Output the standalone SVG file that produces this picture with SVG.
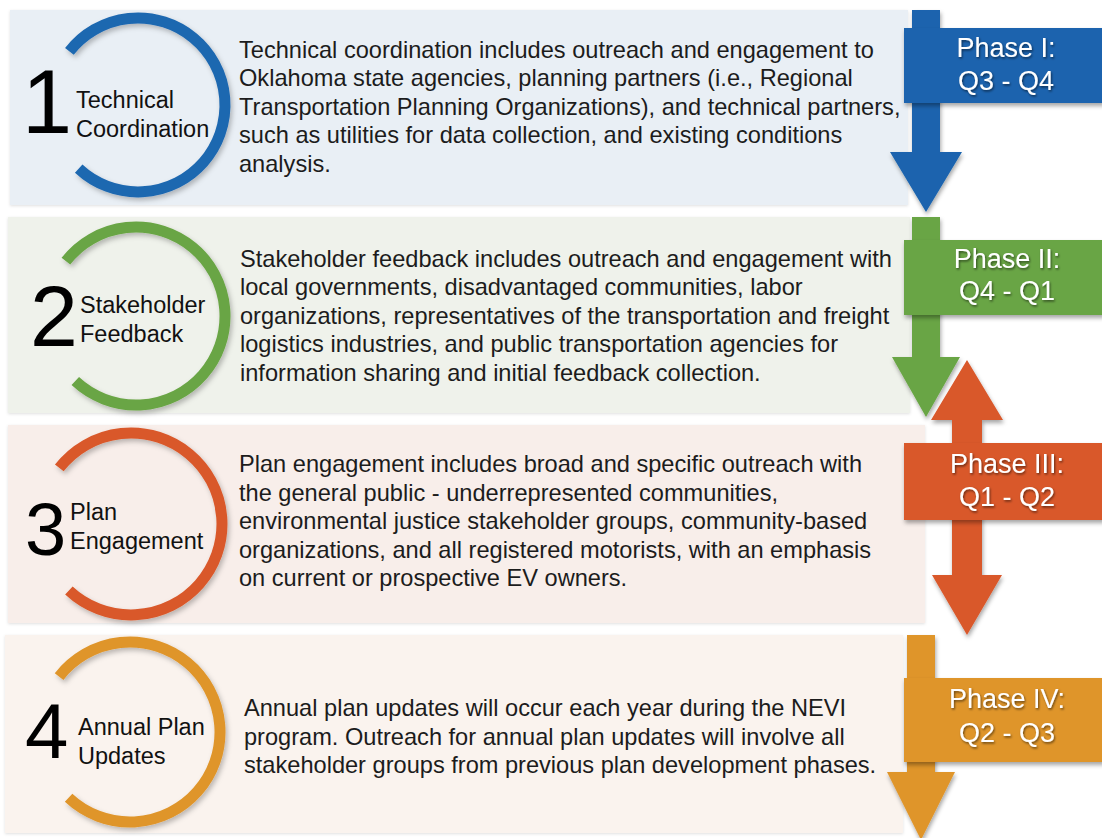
<svg xmlns="http://www.w3.org/2000/svg" width="1102" height="838" viewBox="0 0 1102 838">
<defs>
<style>
.body{font-family:"Liberation Sans",Arial,sans-serif;font-size:23.6px;fill:#1c1c1c}
.lbl{font-family:"Liberation Sans",Arial,sans-serif;font-size:23.5px;fill:#111}
.num{font-family:"Liberation Sans",Arial,sans-serif;fill:#000}
.ph{font-family:"Liberation Sans",Arial,sans-serif;font-size:27px;fill:#fff;text-anchor:middle;filter:url(#ts)}
.arc{fill:none;stroke-width:11;filter:url(#as)}
.panel{filter:url(#ps)}
</style>
<filter id="ts" x="-20%" y="-30%" width="140%" height="160%">
<feDropShadow dx="1" dy="1.5" stdDeviation="1" flood-color="#000" flood-opacity="0.55"/>
</filter>
<filter id="bs" x="-10%" y="-20%" width="130%" height="150%">
<feDropShadow dx="1" dy="3" stdDeviation="2" flood-color="#000" flood-opacity="0.35"/>
</filter>
<filter id="as" x="-20%" y="-20%" width="140%" height="140%">
<feDropShadow dx="2" dy="3" stdDeviation="2.5" flood-color="#000" flood-opacity="0.25"/>
</filter>
<filter id="ps" x="-5%" y="-10%" width="110%" height="120%">
<feDropShadow dx="0" dy="1" stdDeviation="1.5" flood-color="#000" flood-opacity="0.12"/>
</filter>
</defs>
<rect width="1102" height="838" fill="#ffffff"/>

<g id="step1">
<rect class="panel" x="10" y="10" width="898" height="195" fill="#e9eff5"/>
<path class="arc" stroke="#1d67b0" d="M69.4 51.4 A87 87 0 1 1 78.7 168.6"/>
<text class="num" x="22" y="133" font-size="90">1</text>
<text class="lbl" x="76" y="108">Technical</text>
<text class="lbl" x="76" y="137">Coordination</text>
<text class="body" x="239" y="57.5">Technical coordination includes outreach and engagement to</text>
<text class="body" x="239" y="86">Oklahoma state agencies, planning partners (i.e., Regional</text>
<text class="body" x="239" y="114.5">Transportation Planning Organizations), and technical partners,</text>
<text class="body" x="239" y="143">such as utilities for data collection, and existing conditions</text>
<text class="body" x="239" y="171.5">analysis.</text>
</g>

<g id="step2">
<rect class="panel" x="8" y="217" width="902" height="196" fill="#eff2eb"/>
<path class="arc" stroke="#69a544" d="M65.9 261.2 A89 89 0 1 1 75.3 381.1"/>
<text class="num" x="30" y="346" font-size="86">2</text>
<text class="lbl" x="80" y="313">Stakeholder</text>
<text class="lbl" x="80" y="342">Feedback</text>
<text class="body" x="240" y="266.5">Stakeholder feedback includes outreach and engagement with</text>
<text class="body" x="240" y="295">local governments, disadvantaged communities, labor</text>
<text class="body" x="240" y="323.5">organizations, representatives of the transportation and freight</text>
<text class="body" x="240" y="352">logistics industries, and public transportation agencies for</text>
<text class="body" x="240" y="380.5">information sharing and initial feedback collection.</text>
</g>

<g id="step3">
<rect class="panel" x="8" y="425" width="917" height="198" fill="#f8eeea"/>
<path class="arc" stroke="#d9582a" d="M59.3 467.9 A91 91 0 1 1 68.9 590.5"/>
<text class="num" x="25" y="555" font-size="74">3</text>
<text class="lbl" x="70" y="520">Plan</text>
<text class="lbl" x="70" y="549">Engagement</text>
<text class="body" x="239" y="472">Plan engagement includes broad and specific outreach with</text>
<text class="body" x="239" y="500.5">the general public - underrepresented communities,</text>
<text class="body" x="239" y="529">environmental justice stakeholder groups, community-based</text>
<text class="body" x="239" y="557.5">organizations, and all registered motorists, with an emphasis</text>
<text class="body" x="239" y="586">on current or prospective EV owners.</text>
</g>

<g id="step4">
<rect class="panel" x="5" y="635" width="898" height="198" fill="#faf3ee"/>
<path class="arc" stroke="#df952b" d="M59.1 676.6 A90 90 0 1 1 68.6 797.8"/>
<text class="num" x="25" y="758" font-size="78">4</text>
<text class="lbl" x="78" y="735">Annual Plan</text>
<text class="lbl" x="78" y="764">Updates</text>
<text class="body" x="244" y="716">Annual plan updates will occur each year during the NEVI</text>
<text class="body" x="244" y="744.5">program. Outreach for annual plan updates will involve all</text>
<text class="body" x="244" y="773">stakeholder groups from previous plan development phases.</text>
</g>

<g id="connectors" filter="url(#bs)">
<path fill="#1b64ae" d="M912 10 H940 V152 H962 L926 212 L890 152 H912 Z"/>
<path fill="#69a544" d="M912 217 H940 V357 H960 L926 417 L892 357 H912 Z"/>
<path fill="#d9582a" d="M967 360 L1003 420 H982 V575 H1002 L967 635 L932 575 H952 V420 H931 Z"/>
<path fill="#df952b" d="M907 635 H935 V772 H955 L921 840 L887 772 H907 Z"/>
</g>

<g id="phase1" filter="url(#bs)">
<rect x="904" y="28" width="200" height="75" fill="#1b64ae"/>
</g>
<text class="ph" x="1006" y="57">Phase I:</text>
<text class="ph" x="1006" y="90">Q3 - Q4</text>

<g id="phase2" filter="url(#bs)">
<rect x="904" y="240" width="200" height="75" fill="#69a544"/>
</g>
<text class="ph" x="1007" y="268">Phase II:</text>
<text class="ph" x="1007" y="300">Q4 - Q1</text>

<g id="phase3" filter="url(#bs)">
<rect x="904" y="443" width="200" height="77" fill="#d9582a"/>
</g>
<text class="ph" x="1007" y="473">Phase III:</text>
<text class="ph" x="1007" y="506">Q1 - Q2</text>

<g id="phase4" filter="url(#bs)">
<rect x="904" y="678" width="200" height="84" fill="#df952b"/>
</g>
<text class="ph" x="1007" y="708">Phase IV:</text>
<text class="ph" x="1007" y="742">Q2 - Q3</text>
</svg>
